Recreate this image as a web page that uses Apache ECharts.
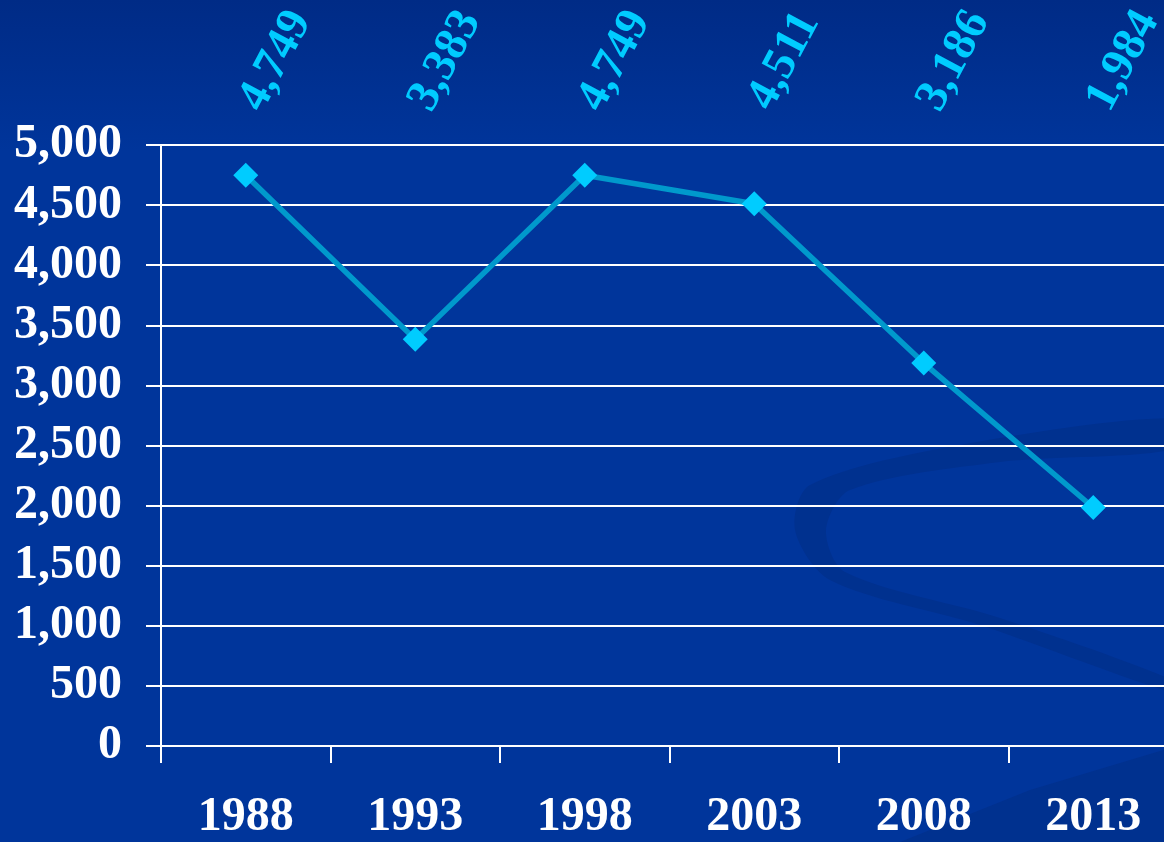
<!DOCTYPE html>
<html>
<head>
<meta charset="UTF-8">
<title>line</title>
<script type="text/javascript" src="https://cdn.jsdelivr.net/npm/echarts@6/dist/echarts.min.js"></script>
<style>
	html, body { margin: 0; padding: 0; overflow: hidden; }
	/* 图表比窗口略宽，最后一个分类的右侧被裁掉 */
	#main { width: 1180px; height: 842px; }
</style>
</head>
<body>
	<div id="main"></div>
</body>
<script type="text/javascript">
	// 数据
	var years = ['1988', '1993', '1998', '2003', '2008', '2013'];
	var values = [4749, 3383, 4749, 4511, 3186, 1984];
	var yTicks = [0, 500, 1000, 1500, 2000, 2500, 3000, 3500, 4000, 4500, 5000];

	var serif = '"Liberation Serif", "Times New Roman", serif';
	var myChart = echarts.init(document.getElementById('main'));

	var option = {
		backgroundColor : {
			type : 'linear', x : 0, y : 0, x2 : 0, y2 : 1,
			colorStops : [
				{ offset : 0, color : '#002b86' },
				{ offset : 0.18, color : '#00359b' },
				{ offset : 1, color : '#00359b' }
			]
		},
		animation : false,
		// 背景的弧形装饰
		graphic : [{
			type : 'polygon',
			z : -10,
			shape : {
				points : [[1180, 418], [960, 445], [810, 485], [795, 530], [830, 580], [980, 625], [1180, 695],
					[1180, 683], [1000, 618], [845, 572], [826, 530], [850, 490], [1000, 462], [1180, 448]],
				smooth : 0.3
			},
			style : { fill : '#00318f' }
		}, {
			type : 'polygon',
			z : -10,
			shape : {
				points : [[900, 842], [1030, 790], [1180, 745], [1180, 842]]
			},
			style : { fill : '#00318f' }
		}],
		grid : {
			left : 161,
			top : 145,
			bottom : 96,
			width : 1017
		},
		xAxis : {
			type : 'category',
			data : years,
			boundaryGap : true,
			axisLine : { lineStyle : { color : '#ffffff', width : 2 } },
			axisTick : { show : true, length : 17, lineStyle : { color : '#ffffff', width : 2 } },
			axisLabel : {
				color : '#ffffff',
				fontFamily : serif,
				fontWeight : 'bold',
				fontSize : 48,
				margin : 48
			}
		},
		yAxis : {
			type : 'value',
			min : yTicks[0],
			max : yTicks[yTicks.length - 1],
			interval : 500,
			axisLine : { show : true, lineStyle : { color : '#ffffff', width : 2 } },
			axisTick : { show : true, length : 15, lineStyle : { color : '#ffffff', width : 2 } },
			splitLine : { lineStyle : { color : '#ffffff', width : 2 } },
			axisLabel : {
				color : '#ffffff',
				fontFamily : serif,
				fontWeight : 'bold',
				fontSize : 48,
				margin : 39,
				formatter : function(v) { return v.toLocaleString('en-US'); }
			}
		},
		series : [{
			type : 'line',
			data : values,
			symbol : 'diamond',
			symbolSize : 25,
			lineStyle : { color : '#0099cc', width : 5.5 },
			itemStyle : { color : '#00ccff' },
			z : 5
		}, {
			// 顶部的数值标签
			type : 'custom',
			data : values.map(function(v, i) { return [i, v]; }),
			renderItem : function(params, api) {
				var p = api.coord([api.value(0), api.value(1)]);
				return {
					type : 'text',
					x : p[0] + 30,
					y : 61,
					rotation : Math.PI * 62 / 180,
					style : {
						text : api.value(1).toLocaleString('en-US'),
						fill : '#00ccff',
						font : 'bold 47px ' + serif,
						align : 'center',
						verticalAlign : 'middle'
					}
				};
			},
			z : 6
		}]
	};
	myChart.setOption(option);
</script>
</html>
